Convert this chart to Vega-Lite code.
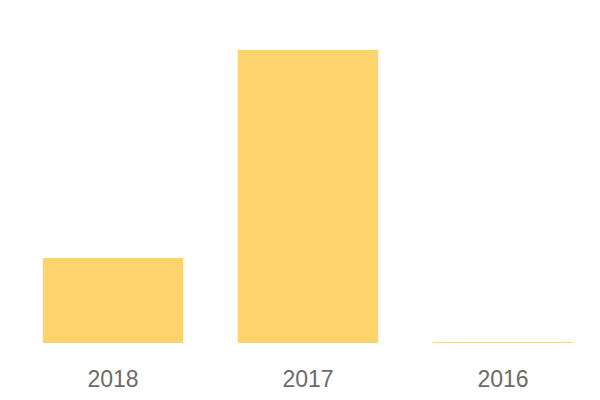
{
  "$schema": "https://vega.github.io/schema/vega-lite/v6.json",
  "width": 585,
  "height": 343,
  "autosize": {"type": "none"},
  "padding": {"left": 15.5, "top": 0, "right": 0, "bottom": 57},
  "background": "white",
  "config": {"view": {"stroke": null}},
  "data": {"values": [
    {"year": "2018", "value": 85},
    {"year": "2017", "value": 293},
    {"year": "2016", "value": 1}
  ]},
  "mark": {"type": "bar", "color": "#FDD46B"},
  "encoding": {
    "x": {"field": "year", "type": "nominal", "sort": null,
      "scale": {"paddingInner": 0.28, "paddingOuter": 0.14},
      "axis": {"title": null, "domain": false, "ticks": false, "labelAngle": 0,
        "labelFontSize": 23, "labelColor": "#6b6b6b", "labelFont": "Liberation Sans", "labelPadding": 25}},
    "y": {"field": "value", "type": "quantitative",
      "scale": {"domain": [0, 343], "nice": false},
      "axis": null}
  }
}
